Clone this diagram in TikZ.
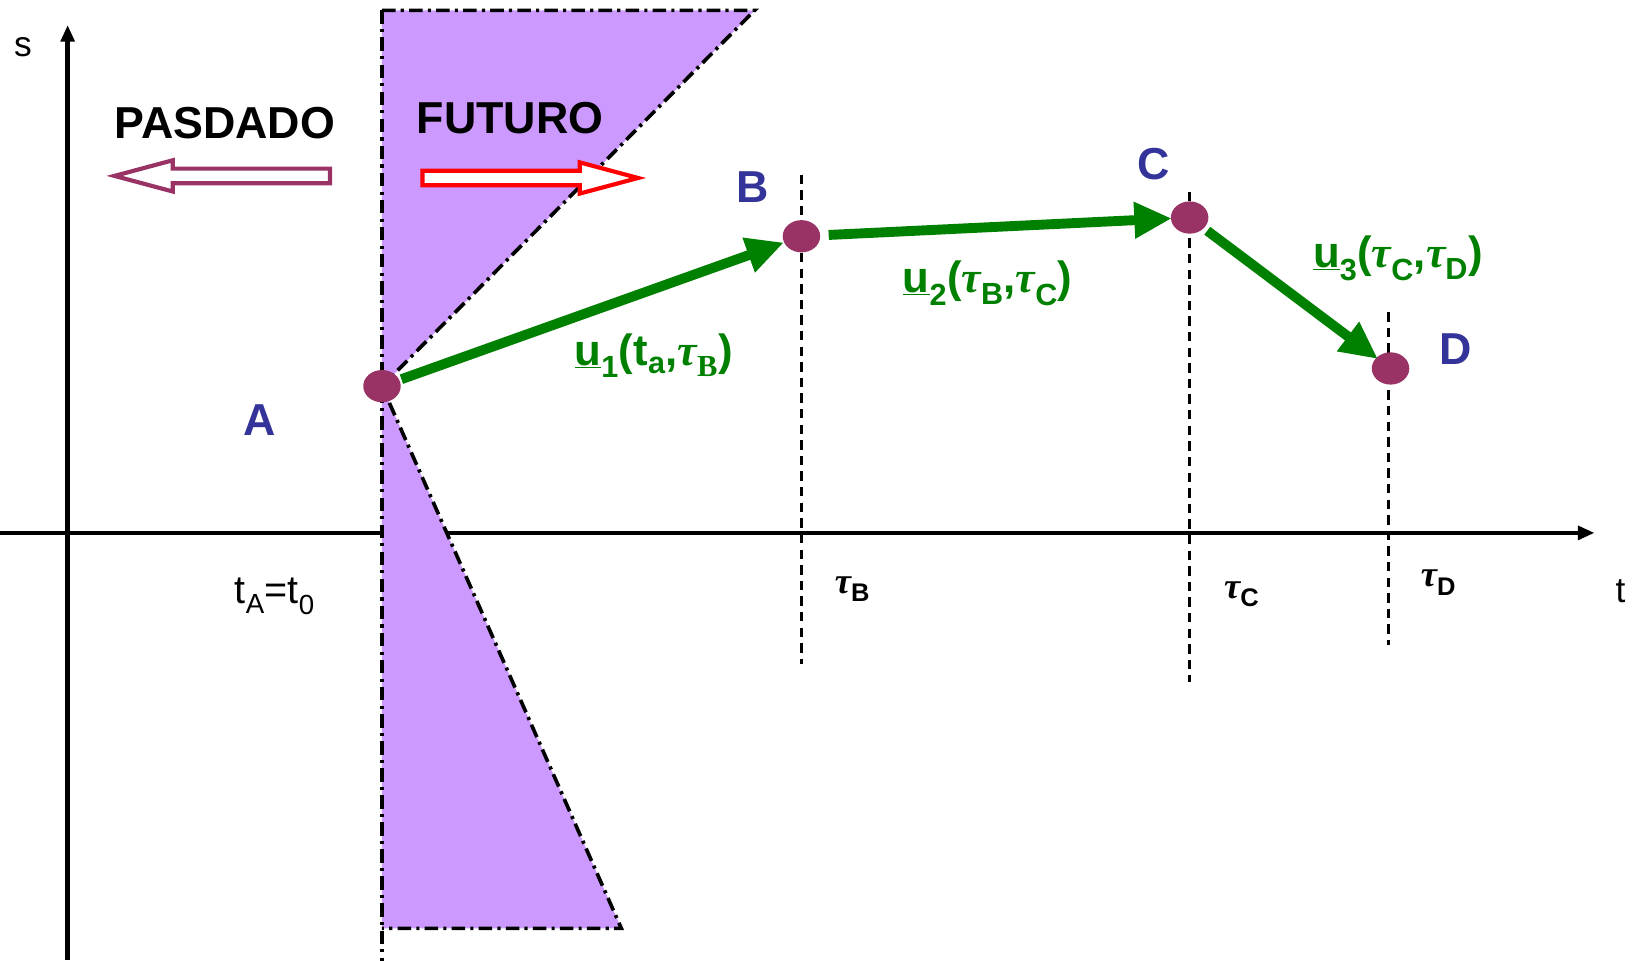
\documentclass[tikz,border=0pt]{standalone}
\usepackage{fontspec}
\setmainfont{Liberation Sans}
\newfontfamily\taufont{Liberation Serif}
\usetikzlibrary{arrows.meta,shapes.geometric}
\definecolor{conefill}{HTML}{CC99FF}
\definecolor{dotcol}{HTML}{993366}
\definecolor{letcol}{HTML}{333399}
\definecolor{grn}{HTML}{008000}
\newcommand{\mytau}{{\taufont\itshape τ}}
\begin{document}
\begin{tikzpicture}[x=1pt,y=-1pt,
  axisline/.style={line width=4.5pt,-{Triangle[length=16pt,width=13pt]}},
  dashdotline/.style={line width=3.5pt,dash pattern=on 13pt off 5pt on 3pt off 5pt},
  vdash/.style={line width=2.5pt,dash pattern=on 9pt off 6pt},
  pt/.style={ellipse,fill=dotcol,minimum width=36pt,minimum height=31pt,inner sep=0pt},
  ptlabel/.style={text=letcol,font=\fontsize{43}{48}\selectfont\bfseries},
  bigword/.style={font=\fontsize{43}{48}\selectfont\bfseries},
  ulabel/.style={text=grn,font=\fontsize{42}{46}\selectfont\bfseries},
  axlabel/.style={font=\fontsize{34}{38}\selectfont},
  talabel/.style={font=\fontsize{38}{42}\selectfont},
  taulabel/.style={font=\fontsize{35}{40}\selectfont\bfseries},
  grarrow/.style={draw=grn,line width=9.5pt,-{Triangle[length=36pt,width=33pt]}},
]
\useasboundingbox (0,0) rectangle (1568,923);
% axes
\coordinate (sbot) at (65,922);
\coordinate (stop) at (65,24);
\coordinate (tleft) at (0,512);
\coordinate (tright) at (1532,512);
\draw[axisline] (sbot) -- (stop);
\draw[axisline] (tleft) -- (tright);
% cones
\coordinate (ctop) at (367,10);
\coordinate (ctr) at (725,10);
\coordinate (cbr) at (597,892);
\coordinate (cbl) at (367,892);
\coordinate (cend) at (367,923);
\coordinate (apex) at (367,371);
\fill[conefill] (ctop) -- (ctr) -- (apex) -- cycle;
\fill[conefill] (apex) -- (cbr) -- (cbl) -- cycle;
\draw[dashdotline] (ctop) -- (ctr) -- (apex) -- (cbr) -- (cbl);
\draw[dashdotline] (ctop) -- (cend);
% vertical dashed lines
\coordinate (bt) at (770,168); \coordinate (bb) at (770,638);
\coordinate (ct) at (1143,184); \coordinate (cb) at (1143,655);
\coordinate (dt) at (1334,300); \coordinate (db) at (1334,620);
\draw[vdash] (bt) -- (bb);
\draw[vdash] (ct) -- (cb);
\draw[vdash] (dt) -- (db);
% hollow arrows
\draw[red,line width=4pt,fill=white,line join=miter]
  (406,164) -- (557,164) -- (557,156) -- (613,171) -- (557,186) -- (557,178) -- (406,178) -- cycle;
\draw[dotcol,line width=4pt,fill=white,line join=miter]
  (317,162) -- (166,162) -- (166,154) -- (110,169) -- (166,184) -- (166,176) -- (317,176) -- cycle;
% points
\node[pt] (A) at (367,371) {};
\node[pt] (B) at (770,227) {};
\node[pt] (C) at (1143,209) {};
\node[pt] (D) at (1336,354) {};
% green arrows
\draw[grarrow,shorten <=2pt] (A) -- (B);
\draw[grarrow,shorten <=8pt,shorten >=-1pt] (B) -- (C);
\draw[grarrow,shorten <=4pt,shorten >=-2pt] (C) -- (D);
% labels
\node[axlabel] (slab) at (22,45) {s};
\node[axlabel] (tlab) at (1557,568) {t};
\node[bigword] (pas) at (216,118) {PASDADO};
\node[bigword] (fut) at (490,113) {FUTURO};
\node[ptlabel] (Al) at (249,404) {A};
\node[ptlabel] (Bl) at (723,180) {B};
\node[ptlabel] (Cl) at (1108,158) {C};
\node[ptlabel] (Dl) at (1399,335) {D};
\node[ulabel] (u1) at (628,342) {\underline{u}\textsubscript{1}(t\textsubscript{a},\mytau\textsubscript{\taufont B})};
\node[ulabel] (u2) at (949,272) {\underline{u}\textsubscript{2}(\mytau\textsubscript{B},\mytau\textsubscript{C})};
\node[ulabel] (u3) at (1343,248) {\underline{u}\textsubscript{3}(\mytau\textsubscript{C},\mytau\textsubscript{D})};
\node[talabel] (ta) at (264,573) {t\textsubscript{A}=t\textsubscript{0}};
\node[taulabel] (tb) at (819,566) {\mytau\textsubscript{B}};
\node[taulabel] (tc) at (1193,571) {\mytau\textsubscript{C}};
\node[taulabel] (td) at (1382,560) {\mytau\textsubscript{D}};
\end{tikzpicture}
\end{document}
